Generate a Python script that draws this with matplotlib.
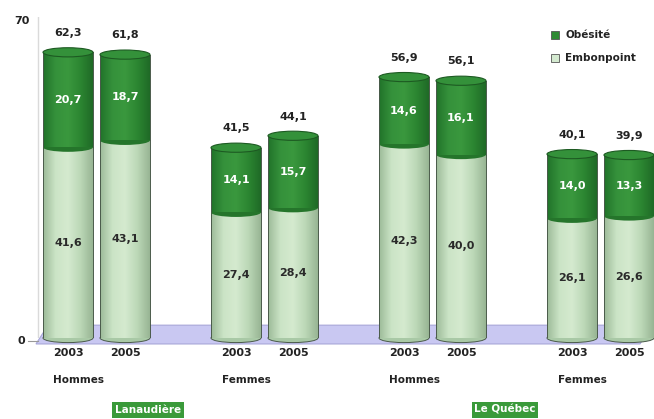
import matplotlib.pyplot as plt
import numpy as np
from matplotlib.patches import Rectangle, Ellipse, Polygon
from matplotlib.colors import LinearSegmentedColormap

# données
regions = ['Lanaudière', 'Le Québec']
sexes = ['Hommes', 'Femmes']
annees = ['2003', '2005']
embonpoint = [41.6, 43.1, 27.4, 28.4, 42.3, 40.0, 26.1, 26.6]
obesite = [20.7, 18.7, 14.1, 15.7, 14.6, 16.1, 14.0, 13.3]
totaux = [62.3, 61.8, 41.5, 44.1, 56.9, 56.1, 40.1, 39.9]

def fmt(v):
    return ('%.1f' % v).replace('.', ',')

fig = plt.figure(figsize=(6.54, 4.19), dpi=100)
ax = fig.add_axes([0, 81 / 419, 1, 321 / 419])
ax.set_xlim(0, 654)
ax.set_ylim(0, 70)
ax.axis('off')

cm_clair = LinearSegmentedColormap.from_list('clair', ['#9dbb99', '#cbe4c6', '#d5eacf', '#bcd8b7', '#98b594'])
cm_fonce = LinearSegmentedColormap.from_list('fonce', ['#21732a', '#35913b', '#3a983e', '#2c8632', '#1f6a26'])
grad = np.linspace(0, 1, 100).reshape(1, -1)

larg = 50
eh = 2.0  # hauteur des ellipses

# plancher
ax.add_patch(Polygon([(36, -1.3), (640, -1.3), (652, 2.8), (48, 2.8)],
                     closed=True, fc='#c9c8f2', ec='#a7a6d8', lw=0.8, clip_on=False, zorder=0))

# axe vertical
ax.plot([38, 38], [0, 70], color='#dadada', lw=1, zorder=0.5)
ax.plot([28, 38], [-0.6, -0.6], color='#999999', lw=0.8, clip_on=False)
ax.text(22, 69.2, '70', ha='center', va='center', fontsize=8, fontweight='bold', color='#222222')
ax.text(21, -0.6, '0', ha='center', va='center', fontsize=8, fontweight='bold', color='#222222')

def segment(xc, y0, y1, cmap, z):
    r = Rectangle((xc - larg / 2, y0), larg, y1 - y0, fc='none', ec='none', zorder=z)
    ax.add_patch(r)
    im = ax.imshow(grad, cmap=cmap, aspect='auto', extent=(xc - larg / 2, xc + larg / 2, y0, y1), zorder=z)
    im.set_clip_path(r)
    ax.plot([xc - larg / 2, xc - larg / 2], [y0, y1], color='#4a5a4a', lw=0.7, zorder=z + 0.1)
    ax.plot([xc + larg / 2, xc + larg / 2], [y0, y1], color='#4a5a4a', lw=0.7, zorder=z + 0.1)

for i in range(len(embonpoint)):
    g = i // 2
    xc = 68 + g * 168 + (i % 2) * 57
    e = embonpoint[i]
    t = e + obesite[i]
    # bas du cylindre
    ax.add_patch(Ellipse((xc, 0), larg, eh, fc='#a9c9a6', ec='#4a5a4a', lw=0.7, zorder=2, clip_on=False))
    segment(xc, 0, e, cm_clair, 3)
    ax.add_patch(Ellipse((xc, e), larg, eh, fc='#25752b', ec='none', zorder=3.5))
    segment(xc, e, t, cm_fonce, 4)
    ax.add_patch(Ellipse((xc, t), larg, eh, fc='#34913a', ec='#1d5a22', lw=0.8, zorder=5))
    # étiquettes
    ax.text(xc, e / 2, fmt(e), ha='center', va='center', fontsize=8, fontweight='bold', color='#2a2a2a', zorder=6)
    ax.text(xc, e + obesite[i] / 2, fmt(obesite[i]), ha='center', va='center', fontsize=8,
            fontweight='bold', color='white', zorder=6)
    ax.text(xc, t + 4.2, fmt(totaux[i]), ha='center', va='center', fontsize=8, fontweight='bold', color='#222222')
    ax.text(xc, -3.3, annees[i % 2], ha='center', va='center', fontsize=8, fontweight='bold',
            color='#222222', clip_on=False)

# libellés des groupes
for g in range(4):
    xm = 68 + g * 168 + 28.5
    ax.text(xm - 18, -9.2, sexes[g % 2], ha='center', va='center', fontsize=7.5, fontweight='bold',
            color='#222222', clip_on=False)

for k, reg in enumerate(regions):
    xm = 148 + k * 357
    ax.text(xm, -15.7, reg, ha='center', va='center', fontsize=7.5, fontweight='bold', color='white',
            clip_on=False, bbox=dict(boxstyle='square,pad=0.25', fc='#3a9a3a', ec='none'))

# légende
ax.add_patch(Rectangle((551, 65.2), 8, 1.8, fc='#2f8a34', ec='#555555', lw=0.6, clip_on=False))
ax.add_patch(Rectangle((551, 60.2), 8, 1.8, fc='#d4ead0', ec='#555555', lw=0.6, clip_on=False))
ax.text(565, 66.1, 'Obésité', ha='left', va='center', fontsize=7.5, fontweight='bold', color='#222222')
ax.text(565, 61.1, 'Embonpoint', ha='left', va='center', fontsize=7.5, fontweight='bold', color='#222222')

fig.savefig('out.png', dpi=100)
